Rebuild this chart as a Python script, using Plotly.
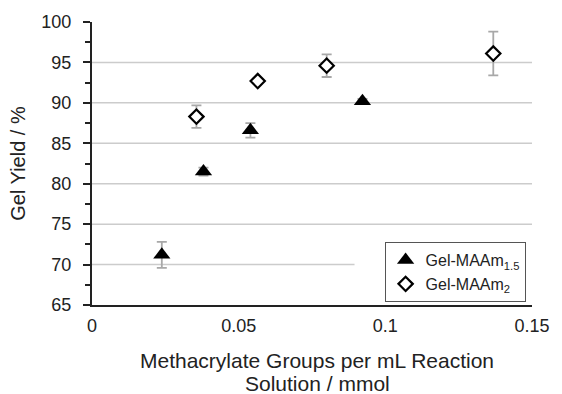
import plotly.graph_objects as go

# Data
x15 = [0.0238, 0.0380, 0.0540, 0.0922]
y15 = [71.2, 81.5, 86.6, 90.2]
e15 = [1.6, 0.5, 0.9, 0.3]

x2 = [0.0356, 0.0565, 0.0800, 0.1368]
y2 = [88.3, 92.7, 94.6, 96.1]
e2 = [1.4, 0.3, 1.4, 2.7]

xticks = [0, 0.05, 0.1, 0.15]
xticklabels = ["0", "0.05", "0.1", "0.15"]
yticks = [65, 70, 75, 80, 85, 90, 95, 100]
xtitle_lines = ["Methacrylate Groups per mL Reaction", "Solution / mmol"]
ytitle = "Gel Yield / %"

FONT = "Liberation Sans, Arial, sans-serif"
TXT = "#222222"
GRID = "#cccccc"

fig = go.Figure()
fig.add_trace(go.Scatter(
    x=x15, y=y15, mode="markers", name="Gel-MAAm<sub>1.5</sub>",
    marker=dict(symbol="triangle-up", size=15, color="black"),
    error_y=dict(type="data", array=e15, color="#a8a8a8", thickness=1.8, width=5),
))
fig.add_trace(go.Scatter(
    x=x2, y=y2, mode="markers", name="Gel-MAAm<sub>2</sub>",
    marker=dict(symbol="diamond", size=11, color="white",
                line=dict(color="black", width=2.2)),
    error_y=dict(type="data", array=e2, color="#a8a8a8", thickness=1.8, width=5),
))

# Gridline at 70 (only partially drawn in the reference)
fig.add_shape(type="line", xref="x", yref="y", x0=0, x1=0.0895, y0=70, y1=70,
              line=dict(color=GRID, width=1.5), layer="below")
# Horizontal gridlines for 75..95 across full width
for g in [75, 80, 85, 90, 95]:
    fig.add_shape(type="line", xref="paper", yref="y", x0=0, x1=1, y0=g, y1=g,
                  line=dict(color=GRID, width=1.5), layer="below")

# X-axis title as two lines
for i, t in enumerate(xtitle_lines):
    fig.add_annotation(text=t, xref="paper", yref="paper", x=0.5, y=0,
                       xshift=5, yshift=-(55 + 23 * i), xanchor="center", yanchor="middle",
                       showarrow=False, font=dict(size=21, color=TXT, family=FONT))

fig.update_layout(
    width=562, height=394,
    margin=dict(l=92, r=21, t=22, b=89),
    paper_bgcolor="white", plot_bgcolor="white",
    font=dict(family=FONT, color=TXT, size=18),
    showlegend=True,
    legend=dict(x=0.665, y=0.222, xanchor="left", yanchor="top",
                bgcolor="white", bordercolor="#555555", borderwidth=1,
                font=dict(size=16, color=TXT), tracegroupgap=0,
                itemwidth=30),
    xaxis=dict(range=[0, 0.15], tickvals=xticks, ticktext=xticklabels,
               showgrid=False, zeroline=False, showline=True,
               linecolor="#222222", linewidth=2, ticks="",
               ticklabelstandoff=3,
               tickfont=dict(size=18, color=TXT)),
    yaxis=dict(range=[65, 100], tickvals=yticks,
               showgrid=False, zeroline=False, showline=True,
               linecolor="#222222", linewidth=2,
               ticks="outside", ticklen=7, tickwidth=1.5, tickcolor="#222222",
               ticklabelstandoff=8,
               minor=dict(tickvals=[67.5, 72.5, 77.5, 82.5, 87.5, 92.5, 97.5],
                          ticks="outside", ticklen=5, tickwidth=1.5, tickcolor="#222222"),
               tickfont=dict(size=18, color=TXT),
               title=dict(text=ytitle, font=dict(size=20, color=TXT), standoff=10)),
)

fig.write_html("out.html")
